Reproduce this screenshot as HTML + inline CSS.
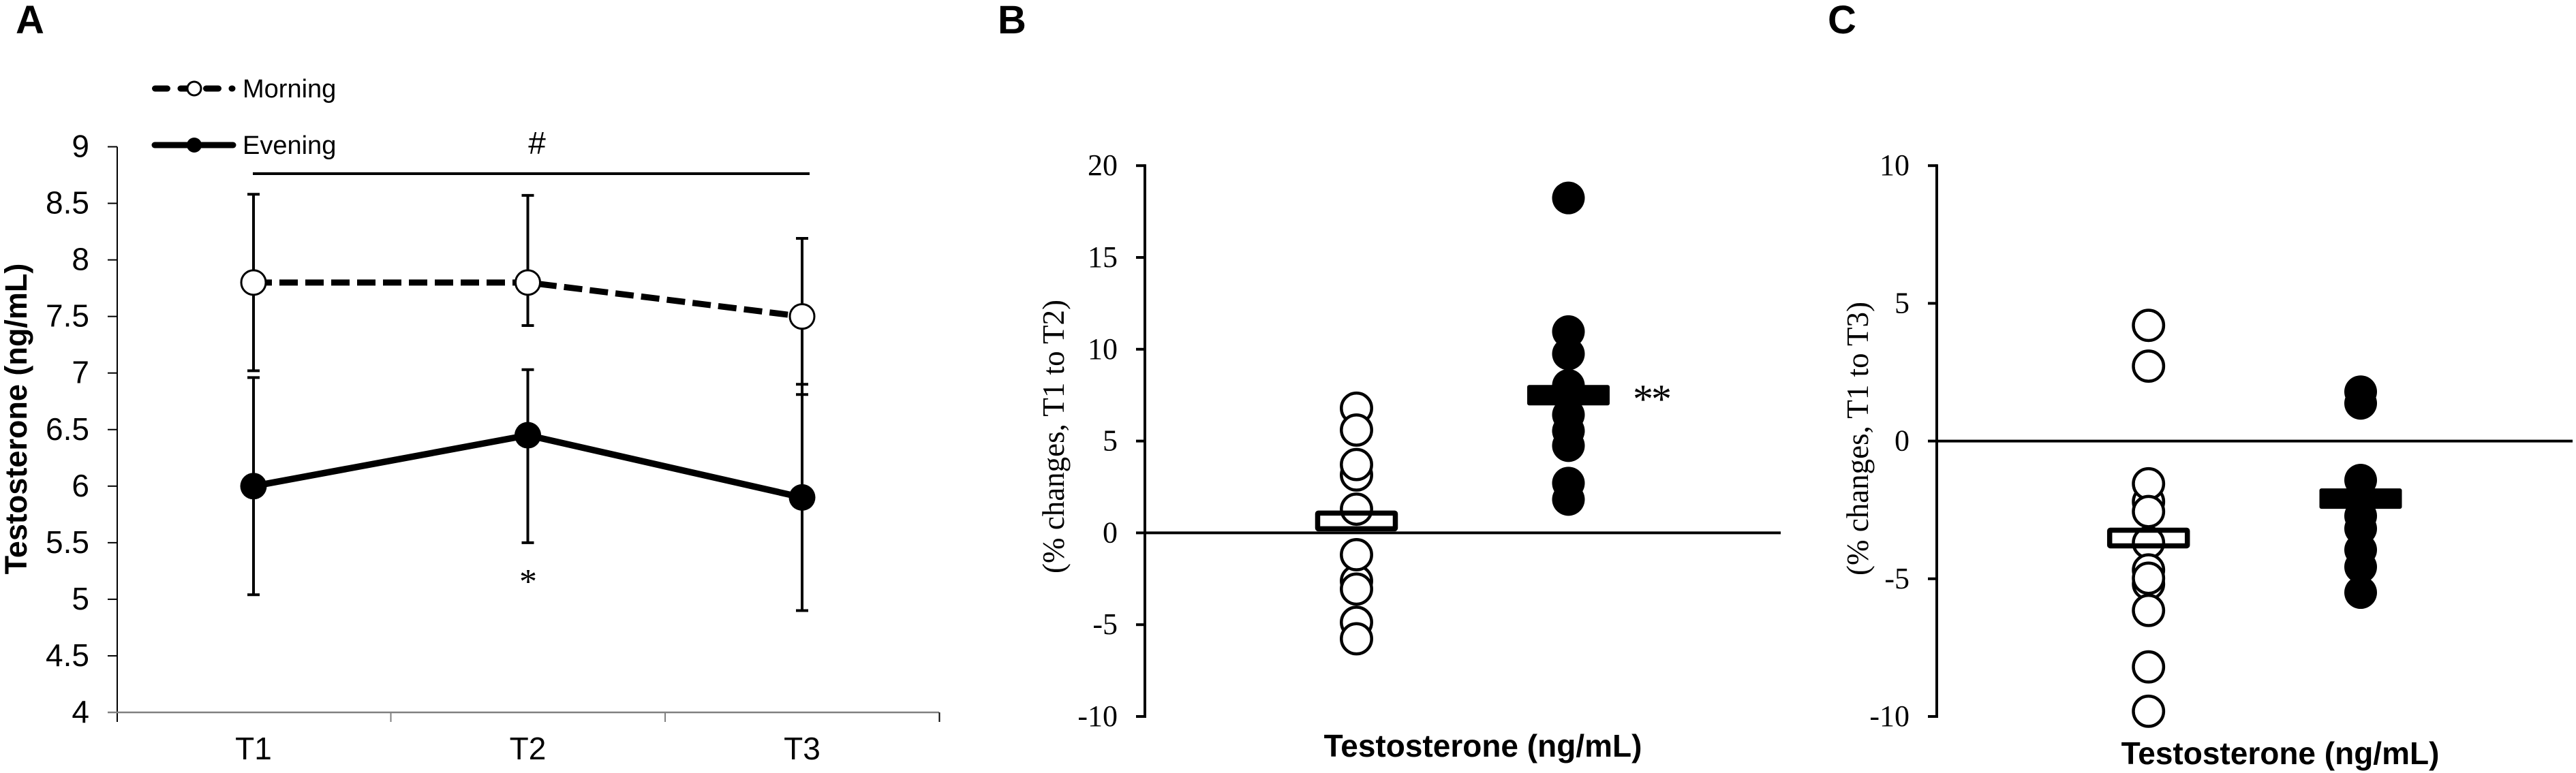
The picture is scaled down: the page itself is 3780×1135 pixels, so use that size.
<!DOCTYPE html>
<html lang="en">
<head>
<meta charset="utf-8">
<title>Testosterone chart</title>
<style>
html,body{margin:0;padding:0;background:#fff;overflow:hidden;}
svg{display:block;}
.sans{font-family:"Liberation Sans",sans-serif;fill:#000;}
.serif{font-family:"Liberation Serif",serif;fill:#000;}
</style>
</head>
<body>
<svg id="figure" xmlns="http://www.w3.org/2000/svg" width="3780" height="1135" viewBox="0 0 3780 1135">
  <rect x="0" y="0" width="3780" height="1135" fill="#fff"/>
  <text class="sans" x="23" y="49" font-size="58" font-weight="700">A</text>
  <text class="sans" x="1464" y="49" font-size="58" font-weight="700">B</text>
  <text class="sans" x="2682" y="49" font-size="58" font-weight="700">C</text>

  <g id="panelA"></g>
  <g id="panelB"></g>
  <g id="panelC"></g>

  <g>
    <g>
      <line x1="227.5" y1="130" x2="341" y2="130" stroke="#000" stroke-width="9" stroke-linecap="round" stroke-dasharray="18 19.5"/>
      <circle cx="285" cy="130" r="10" fill="#fff" stroke="#000" stroke-width="3"/>
      <text class="sans" x="356" y="143" font-size="38">Morning</text>
    </g>
    <g>
      <line x1="227" y1="213" x2="342" y2="213" stroke="#000" stroke-width="9" stroke-linecap="round"/>
      <circle cx="285" cy="213" r="11" fill="#000"/>
      <text class="sans" x="356" y="226" font-size="38">Evening</text>
    </g>
  </g>

  <text class="sans" x="788" y="226" font-size="46" text-anchor="middle">#</text>
  <line x1="371" y1="255" x2="1188" y2="255" stroke="#000" stroke-width="4"/>
  <text class="serif" x="775" y="871" font-size="52" text-anchor="middle">*</text>
  <text class="serif" x="2423" y="606" font-size="60" letter-spacing="-3" text-anchor="middle">**</text>

  <text class="sans" font-size="45" font-weight="700" text-anchor="middle" transform="translate(39 615) rotate(-90)">Testosterone (ng/mL)</text>
  <text class="serif" font-size="45" text-anchor="middle" transform="translate(1561 641) rotate(-90)">(% changes, T1 to T2)</text>
  <text class="serif" font-size="45" text-anchor="middle" transform="translate(2741 644) rotate(-90)">(% changes, T1 to T3)</text>
  <text class="sans" x="2176" y="1111" font-size="46" font-weight="700" text-anchor="middle">Testosterone (ng/mL)</text>
  <text class="sans" x="3346" y="1122" font-size="46" font-weight="700" text-anchor="middle">Testosterone (ng/mL)</text>
</svg>

<script>
// Panel A data
const categoriesA = ['T1', 'T2', 'T3'];
const yTickValuesA = [4, 4.5, 5, 5.5, 6, 6.5, 7, 7.5, 8, 8.5, 9];
const morningMean = [7.8, 7.8, 7.5];
const morningUpper = [8.58, 8.57, 8.19];
const morningLower = [7.02, 7.42, 6.81];
const eveningMean = [6.0, 6.45, 5.9];
const eveningUpper = [6.96, 7.03, 6.9];
const eveningLower = [5.04, 5.5, 4.9];

// Panel B data
const yTickValuesB = [-10, -5, 0, 5, 10, 15, 20];
const openValuesB = [6.79, 5.6, 3.15, 3.72, 1.29, -2.62, -1.19, -3.06, -4.87, -5.77];
const filledValuesB = [18.24, 10.96, 9.75, 8.03, 6.43, 5.55, 4.75, 2.71, 1.82];
const openMeanB = 0.65;
const filledMeanB = 7.5;

// Panel C data
const yTickValuesC = [-10, -5, 0, 5, 10];
const openValuesC = [4.2, 2.72, -2.2, -1.55, -2.56, -3.69, -5.19, -4.68, -4.98, -6.15, -8.2, -9.81];
const filledValuesC = [1.79, 1.37, -1.42, -2.72, -3.18, -3.95, -4.57, -5.5];
const openMeanC = -3.52;
const filledMeanC = -2.09;

const SVG_NS = 'http://www.w3.org/2000/svg';

function make(parent, tag, attrs, text) {
  const el = document.createElementNS(SVG_NS, tag);
  for (const k in attrs) el.setAttribute(k, attrs[k]);
  if (text !== undefined) el.textContent = text;
  parent.appendChild(el);
  return el;
}

// Axis functions
function xA(i) { return 372 + 402.5 * i; }
function yA(v) { return 1046 - (v - 4) * 166.1; }
function yB(v) { return 782.4 - v * 26.96; }
function yC(v) { return 647.6 - v * 40.44; }

/* ---------- Panel A ---------- */
const gA = document.getElementById('panelA');

yTickValuesA.forEach(function (v) {
  const tick = make(gA, 'line', {x1: 158, x2: 172, y1: yA(v), y2: yA(v), stroke: v === 4 ? '#808080' : '#000', 'stroke-width': 2});
  
  
  const label = make(gA, 'text', {x: 131, y: yA(v) + 15, 'text-anchor': 'end', 'font-size': 46, class: 'sans'}, String(v));
  
  
});

const axisYA = make(gA, 'line', {x1: 172, x2: 172, y1: yA(9), y2: 1060, stroke: '#000', 'stroke-width': 2});



const axisXA = make(gA, 'line', {x1: 158, x2: 1378, y1: yA(4), y2: yA(4), stroke: '#808080', 'stroke-width': 2.5});



[0, 1, 2].forEach(function (i) {
  const bx = xA(i) + 201.5;
  const xt = make(gA, 'line', {x1: bx, x2: bx, y1: yA(4), y2: 1060, stroke: i === 2 ? '#000' : '#808080', 'stroke-width': 2});
  
  
});

categoriesA.forEach(function (c, i) {
  const label = make(gA, 'text', {x: xA(i), y: 1115, 'text-anchor': 'middle', 'font-size': 46, class: 'sans'}, c);
  
  
});

function errorBars(upper, lower, nameText) {
  upper.forEach(function (u, i) {
    const x = xA(i);
    const l = lower[i];
    const g = make(gA, 'g', {stroke: '#000', 'stroke-width': 4});
    
    
    make(g, 'line', {x1: x, x2: x, y1: yA(u), y2: yA(l)});
    make(g, 'line', {x1: x - 9, x2: x + 9, y1: yA(u), y2: yA(u)});
    make(g, 'line', {x1: x - 9, x2: x + 9, y1: yA(l), y2: yA(l)});
  });
}
errorBars(morningUpper, morningLower, 'morning-error-bar');
errorBars(eveningUpper, eveningLower, 'evening-error-bar');

const morningLine = make(gA, 'polyline', {points: morningMean.map(function (v, i) { return xA(i) + ',' + yA(v); }).join(' '), fill: 'none', stroke: '#000', 'stroke-width': 9, 'stroke-dasharray': '27 11'});



const eveningLine = make(gA, 'polyline', {points: eveningMean.map(function (v, i) { return xA(i) + ',' + yA(v); }).join(' '), fill: 'none', stroke: '#000', 'stroke-width': 9.5});



morningMean.forEach(function (v, i) {
  const p = make(gA, 'circle', {cx: xA(i), cy: yA(v), r: 18, fill: '#fff', stroke: '#000', 'stroke-width': 3});
  
  
});
eveningMean.forEach(function (v, i) {
  const p = make(gA, 'circle', {cx: xA(i), cy: yA(v), r: 19.5, fill: '#000'});
  
  
});

/* ---------- Panels B and C ---------- */
function scatterPanel(g, axisX, yFn, tickValues, zeroEnd, openX, filledX, openVals, filledVals, openMean, filledMean) {
  const axis = make(g, 'line', {x1: axisX, x2: axisX, y1: yFn(tickValues[tickValues.length - 1]) - 2, y2: yFn(tickValues[0]) + 2, stroke: '#000', 'stroke-width': 4});
  
  

  tickValues.forEach(function (v) {
    const tick = make(g, 'line', {x1: axisX - 13, x2: axisX, y1: yFn(v), y2: yFn(v), stroke: '#000', 'stroke-width': 4});
    
    
    const label = make(g, 'text', {x: axisX - 40, y: yFn(v) + 14, 'text-anchor': 'end', 'font-size': 44, class: 'serif'}, String(v));
    
    
  });

  const zero = make(g, 'line', {x1: axisX, x2: zeroEnd, y1: yFn(0), y2: yFn(0), stroke: '#000', 'stroke-width': 4});
  
  

  openVals.forEach(function (v) {
    const c = make(g, 'circle', {cx: openX, cy: yFn(v), r: 22.2, fill: '#fff', stroke: '#000', 'stroke-width': 4.5});
    
    
  });
  filledVals.forEach(function (v) {
    const c = make(g, 'circle', {cx: filledX, cy: yFn(v), r: 24, fill: '#000'});
    
    
  });

  const openBar = make(g, 'rect', {x: openX - 57, y: yFn(openMean) - 11.5, width: 114, height: 23, rx: 1, fill: 'none', stroke: '#000', 'stroke-width': 7.5});
  
  

  const filledBar = make(g, 'rect', {x: filledX - 60.5, y: yFn(filledMean) - 15, width: 121, height: 30, rx: 3, fill: '#000'});
  
  
}

scatterPanel(document.getElementById('panelB'), 1680, yB, yTickValuesB, 2613, 1990.5, 2301.5, openValuesB, filledValuesB, openMeanB, filledMeanB);
scatterPanel(document.getElementById('panelC'), 2842, yC, yTickValuesC, 3775, 3152.7, 3464, openValuesC, filledValuesC, openMeanC, filledMeanC);
</script>
</body>
</html>
